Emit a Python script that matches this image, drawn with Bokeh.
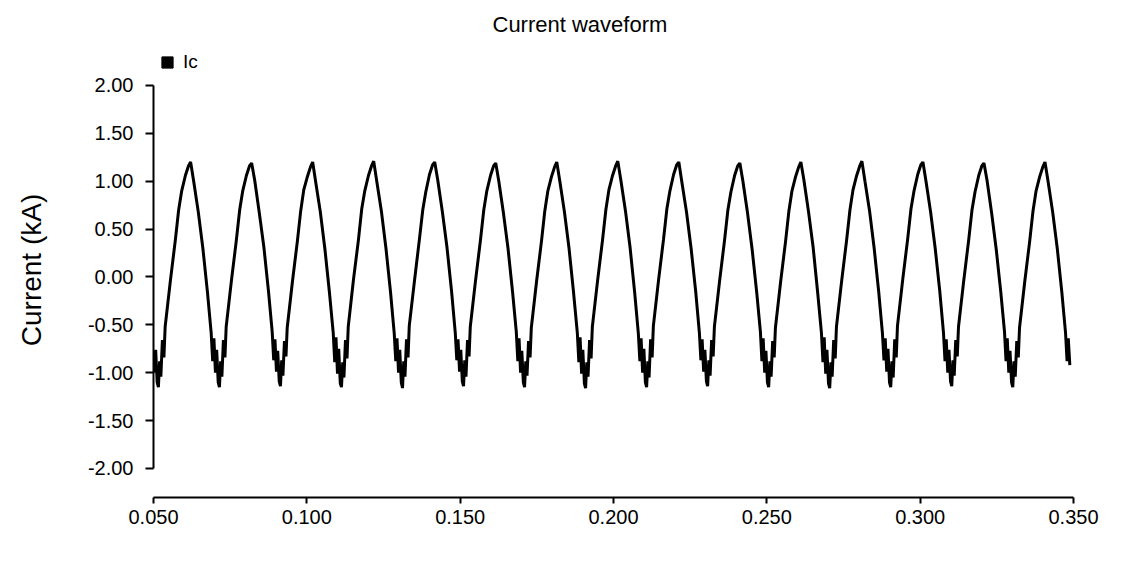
from bokeh.plotting import figure
from bokeh.models import Range1d, FixedTicker, PrintfTickFormatter, Legend, LegendItem
from bokeh.embed import file_html
from bokeh.resources import INLINE

# ---- data ----
x_ticks = [0.05, 0.10, 0.15, 0.20, 0.25, 0.30, 0.35]
y_ticks = [-2.0, -1.5, -1.0, -0.5, 0.0, 0.5, 1.0, 1.5, 2.0]

time_s = [
    0.0500, 0.0503, 0.0507, 0.0512, 0.0516, 0.0520, 0.0524, 0.0529, 0.0534, 0.0538, 0.0555, 0.0571, 0.0582, 0.0592, 0.0604, 0.0614,
    0.0621, 0.0631, 0.0646, 0.0661, 0.0676, 0.0688, 0.0693, 0.0697, 0.0702, 0.0706, 0.0711, 0.0715, 0.0719, 0.0723, 0.0728, 0.0733, 0.0737, 0.0754, 0.0770, 0.0781, 0.0791, 0.0803, 0.0813,
    0.0820, 0.0830, 0.0845, 0.0860, 0.0875, 0.0887, 0.0892, 0.0896, 0.0901, 0.0905, 0.0910, 0.0914, 0.0918, 0.0922, 0.0927, 0.0932, 0.0936, 0.0953, 0.0969, 0.0980, 0.0990, 0.1002, 0.1012,
    0.1019, 0.1029, 0.1044, 0.1059, 0.1074, 0.1086, 0.1091, 0.1095, 0.1100, 0.1104, 0.1109, 0.1113, 0.1117, 0.1121, 0.1126, 0.1131, 0.1135, 0.1152, 0.1168, 0.1179, 0.1189, 0.1201, 0.1211,
    0.1218, 0.1228, 0.1243, 0.1258, 0.1273, 0.1285, 0.1290, 0.1294, 0.1299, 0.1303, 0.1308, 0.1312, 0.1316, 0.1320, 0.1325, 0.1330, 0.1334, 0.1351, 0.1367, 0.1378, 0.1388, 0.1400, 0.1410,
    0.1417, 0.1427, 0.1442, 0.1457, 0.1472, 0.1484, 0.1489, 0.1493, 0.1498, 0.1502, 0.1507, 0.1511, 0.1515, 0.1519, 0.1524, 0.1529, 0.1533, 0.1550, 0.1566, 0.1577, 0.1587, 0.1599, 0.1609,
    0.1616, 0.1626, 0.1641, 0.1656, 0.1671, 0.1683, 0.1688, 0.1692, 0.1697, 0.1701, 0.1706, 0.1710, 0.1714, 0.1718, 0.1723, 0.1728, 0.1732, 0.1749, 0.1765, 0.1776, 0.1786, 0.1798, 0.1808,
    0.1815, 0.1825, 0.1840, 0.1855, 0.1870, 0.1882, 0.1887, 0.1891, 0.1896, 0.1900, 0.1905, 0.1909, 0.1913, 0.1917, 0.1922, 0.1927, 0.1931, 0.1948, 0.1964, 0.1975, 0.1985, 0.1997, 0.2007,
    0.2014, 0.2024, 0.2039, 0.2054, 0.2069, 0.2081, 0.2086, 0.2090, 0.2095, 0.2099, 0.2104, 0.2108, 0.2112, 0.2116, 0.2121, 0.2126, 0.2130, 0.2147, 0.2163, 0.2174, 0.2184, 0.2196, 0.2206,
    0.2213, 0.2223, 0.2238, 0.2253, 0.2268, 0.2280, 0.2285, 0.2289, 0.2294, 0.2298, 0.2303, 0.2307, 0.2311, 0.2315, 0.2320, 0.2325, 0.2329, 0.2346, 0.2362, 0.2373, 0.2383, 0.2395, 0.2405,
    0.2412, 0.2422, 0.2437, 0.2452, 0.2467, 0.2479, 0.2484, 0.2488, 0.2493, 0.2497, 0.2502, 0.2506, 0.2510, 0.2514, 0.2519, 0.2524, 0.2528, 0.2545, 0.2561, 0.2572, 0.2582, 0.2594, 0.2604,
    0.2611, 0.2621, 0.2636, 0.2651, 0.2666, 0.2678, 0.2683, 0.2687, 0.2692, 0.2696, 0.2701, 0.2705, 0.2709, 0.2713, 0.2718, 0.2723, 0.2727, 0.2744, 0.2760, 0.2771, 0.2781, 0.2793, 0.2803,
    0.2810, 0.2820, 0.2835, 0.2850, 0.2865, 0.2877, 0.2882, 0.2886, 0.2891, 0.2895, 0.2900, 0.2904, 0.2908, 0.2912, 0.2917, 0.2922, 0.2926, 0.2943, 0.2959, 0.2970, 0.2980, 0.2992, 0.3002,
    0.3009, 0.3019, 0.3034, 0.3049, 0.3064, 0.3076, 0.3081, 0.3085, 0.3090, 0.3094, 0.3099, 0.3103, 0.3107, 0.3111, 0.3116, 0.3121, 0.3125, 0.3142, 0.3158, 0.3169, 0.3179, 0.3191, 0.3201,
    0.3208, 0.3218, 0.3233, 0.3248, 0.3263, 0.3275, 0.3280, 0.3284, 0.3289, 0.3293, 0.3298, 0.3302, 0.3306, 0.3310, 0.3315, 0.3320, 0.3324, 0.3341, 0.3357, 0.3368, 0.3378, 0.3390, 0.3400,
    0.3407, 0.3417, 0.3432, 0.3447, 0.3462, 0.3474, 0.3479, 0.3483, 0.3488,
]

current_kA = [
    -0.80, -1.00, -0.76, -1.10, -1.15, -0.88, -1.04, -0.66, -0.84, -0.52, -0.04, 0.38, 0.70, 0.90, 1.06, 1.16,
    1.20, 1.00, 0.68, 0.30, -0.16, -0.58, -0.88, -0.64, -1.00, -0.76, -1.10, -1.15, -0.88, -1.04, -0.66, -0.84, -0.52, -0.04, 0.38, 0.70, 0.90, 1.06, 1.16,
    1.19, 1.01, 0.67, 0.31, -0.15, -0.57, -0.87, -0.65, -0.99, -0.77, -1.09, -1.14, -0.87, -1.03, -0.67, -0.83, -0.53, -0.05, 0.37, 0.69, 0.91, 1.05, 1.15,
    1.20, 0.99, 0.68, 0.29, -0.17, -0.58, -0.89, -0.63, -1.01, -0.75, -1.11, -1.15, -0.89, -1.05, -0.66, -0.85, -0.52, -0.03, 0.38, 0.71, 0.90, 1.06, 1.16,
    1.21, 1.00, 0.69, 0.30, -0.16, -0.59, -0.88, -0.64, -1.00, -0.76, -1.10, -1.16, -0.88, -1.04, -0.65, -0.84, -0.51, -0.04, 0.39, 0.70, 0.89, 1.07, 1.17,
    1.20, 1.01, 0.68, 0.31, -0.15, -0.58, -0.87, -0.65, -0.99, -0.76, -1.09, -1.14, -0.87, -1.04, -0.66, -0.83, -0.52, -0.04, 0.38, 0.70, 0.90, 1.06, 1.16,
    1.19, 1.00, 0.67, 0.30, -0.16, -0.57, -0.88, -0.64, -1.00, -0.77, -1.10, -1.15, -0.88, -1.03, -0.67, -0.84, -0.53, -0.05, 0.37, 0.69, 0.90, 1.05, 1.15,
    1.20, 1.00, 0.68, 0.30, -0.17, -0.58, -0.89, -0.63, -1.01, -0.76, -1.11, -1.16, -0.89, -1.04, -0.66, -0.85, -0.52, -0.04, 0.38, 0.70, 0.91, 1.06, 1.16,
    1.21, 1.01, 0.69, 0.31, -0.16, -0.59, -0.88, -0.64, -1.00, -0.75, -1.10, -1.15, -0.88, -1.05, -0.65, -0.84, -0.51, -0.03, 0.39, 0.71, 0.90, 1.07, 1.17,
    1.20, 0.99, 0.68, 0.30, -0.15, -0.58, -0.87, -0.65, -0.99, -0.76, -1.09, -1.14, -0.87, -1.03, -0.66, -0.83, -0.52, -0.04, 0.38, 0.70, 0.89, 1.06, 1.16,
    1.19, 1.00, 0.67, 0.29, -0.16, -0.57, -0.88, -0.64, -1.00, -0.77, -1.10, -1.15, -0.88, -1.04, -0.67, -0.84, -0.53, -0.05, 0.37, 0.69, 0.90, 1.05, 1.15,
    1.20, 1.01, 0.68, 0.31, -0.17, -0.58, -0.89, -0.63, -1.01, -0.76, -1.11, -1.16, -0.89, -1.04, -0.66, -0.85, -0.52, -0.04, 0.38, 0.70, 0.91, 1.06, 1.16,
    1.21, 1.00, 0.69, 0.30, -0.16, -0.59, -0.87, -0.64, -0.99, -0.75, -1.10, -1.15, -0.88, -1.05, -0.65, -0.84, -0.51, -0.03, 0.39, 0.71, 0.90, 1.07, 1.17,
    1.20, 1.00, 0.68, 0.30, -0.15, -0.58, -0.88, -0.65, -1.00, -0.76, -1.09, -1.14, -0.87, -1.03, -0.66, -0.83, -0.52, -0.04, 0.38, 0.70, 0.89, 1.06, 1.16,
    1.19, 1.01, 0.67, 0.29, -0.16, -0.57, -0.88, -0.64, -1.00, -0.77, -1.10, -1.15, -0.88, -1.04, -0.67, -0.84, -0.53, -0.05, 0.37, 0.69, 0.90, 1.05, 1.15,
    1.20, 1.00, 0.68, 0.30, -0.16, -0.58, -0.88, -0.64, -0.92,
]

series_name = "Ic"
title_text = "Current waveform"
y_label = "Current (kA)"

FONT = "Liberation Sans"

p = figure(width=1141, height=578, output_backend="svg", toolbar_location=None,
           x_range=Range1d(0.05, 0.35), y_range=Range1d(-2.303, 2.449),
           min_border_left=153, min_border_right=68, min_border_top=42, min_border_bottom=81)
p.background_fill_color = "white"
p.border_fill_color = "white"
p.outline_line_color = None
p.xgrid.visible = False
p.ygrid.visible = False

p.line(time_s, current_kA, line_color="black", line_width=3)

# marker renderer used only for the legend swatch (zero-size markers on the plot)
swatch = p.scatter(x=time_s, y=current_kA, marker="square", size=0,
                   fill_color="black", line_color="black", line_width=1)
legend = Legend(items=[LegendItem(label=series_name, renderers=[swatch])],
                location=(0, 421), margin=0, padding=0,
                glyph_width=28, glyph_height=28, label_standoff=2,
                label_text_font=FONT, label_text_font_size="19px", label_text_color="black",
                border_line_color=None, background_fill_alpha=0)
p.add_layout(legend)

# title
p.title.text = title_text
p.title.align = "left"
p.title.offset = 339
p.title.text_font = FONT
p.title.text_font_size = "22px"
p.title.text_font_style = "normal"
p.title.text_color = "black"
p.title.standoff = 12

# y axis
ya = p.yaxis[0]
ya.bounds = (-2, 2)
ya.ticker = FixedTicker(ticks=y_ticks)
ya.formatter = PrintfTickFormatter(format="%.2f")
ya.axis_line_width = 2
ya.axis_line_color = "black"
ya.major_tick_line_width = 2
ya.major_tick_out = 8
ya.major_tick_in = 0
ya.minor_tick_line_color = None
ya.major_label_standoff = 12
ya.major_label_text_font = FONT
ya.major_label_text_font_size = "20px"
ya.major_label_text_color = "black"
ya.axis_label = y_label
ya.axis_label_text_font = FONT
ya.axis_label_text_font_size = "28px"
ya.axis_label_text_font_style = "normal"
ya.axis_label_text_color = "black"
ya.axis_label_standoff = 38

# x axis
xa = p.xaxis[0]
xa.ticker = FixedTicker(ticks=x_ticks)
xa.formatter = PrintfTickFormatter(format="%.3f")
xa.axis_line_width = 2
xa.axis_line_color = "black"
xa.major_tick_line_width = 2
xa.major_tick_out = 6
xa.major_tick_in = 0
xa.minor_tick_line_color = None
xa.major_label_standoff = 6
xa.major_label_text_font = FONT
xa.major_label_text_font_size = "20px"
xa.major_label_text_color = "black"

open("out.html", "w").write(file_html(p, INLINE))
